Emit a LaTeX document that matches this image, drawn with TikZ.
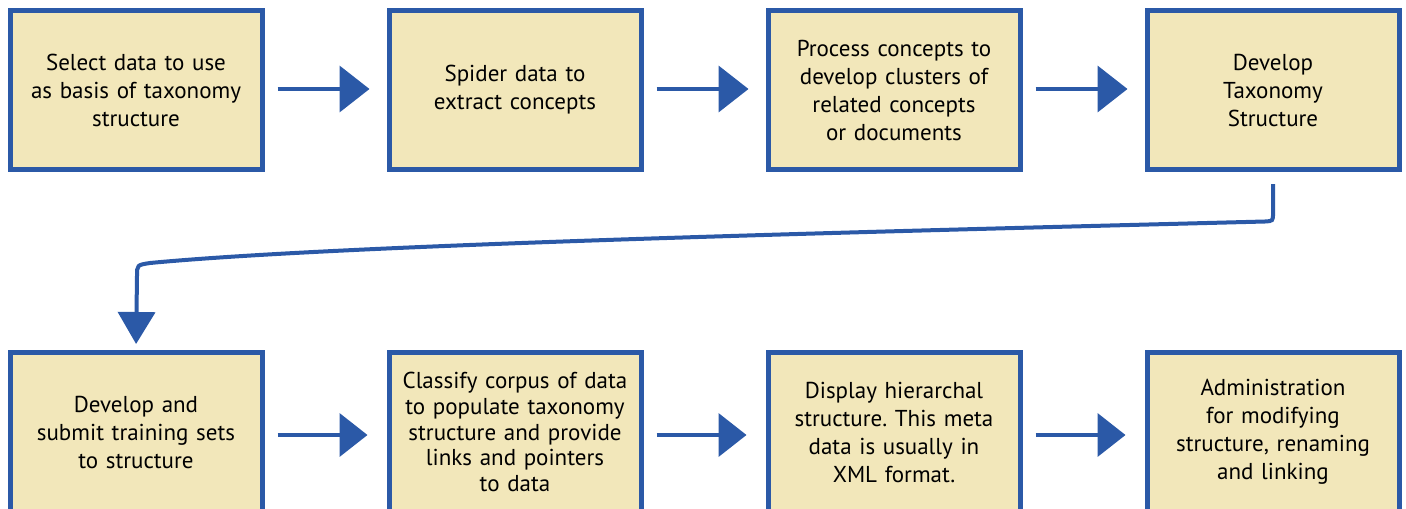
\documentclass[tikz,border=0pt]{standalone}
\usepackage{fontspec}
\setmainfont{PT Sans}
\usetikzlibrary{arrows.meta}
\definecolor{boxfill}{RGB}{242,231,186}
\definecolor{boxblue}{RGB}{43,89,167}
\frenchspacing
\begin{document}
\begin{tikzpicture}[x=0.5pt,y=-0.5pt,
  stepbox/.style={draw=boxblue, fill=boxfill, line width=2.5pt,
    minimum width=126pt, minimum height=79.5pt, inner sep=0pt,
    align=center, text width=122pt, font=\fontsize{11.5}{14}\selectfont},
  flow/.style={draw=boxblue, line width=2pt,
    -{Triangle[length=15pt,width=23pt]}, shorten <=6.5pt, shorten >=8.5pt},
  flowb/.style={draw=boxblue, line width=2pt,
    -{Triangle[length=14pt,width=21.5pt]}, shorten <=6.5pt, shorten >=9.5pt},
  turn/.style={draw=boxblue, line width=2pt,
    -{Triangle[length=16pt,width=18.5pt]}, shorten <=6pt, shorten >=3pt}]
\useasboundingbox (0,0) rectangle (1406,508);
\begin{scope}
\clip (0,0) rectangle (1406,508);
\node[stepbox] (b1) at (136,90) {Select data to use\\as basis of taxonomy\\structure};
\node[stepbox] (b2) at (515,90) {Spider data to\\extract concepts};
\node[stepbox] (b3) at (894,90) {Process concepts to\\develop clusters of\\related concepts\\or documents};
\node[stepbox] (b4) at (1273,90) {Develop\\Taxonomy\\Structure};
\node[stepbox] (b5) at (136,432) {Develop and\\submit training sets\\to structure};
\node[stepbox, font=\fontsize{11.5}{12.85}\selectfont] (b6) at (515,432) {Classify corpus of data\\to populate taxonomy\\structure and provide\\links and pointers\\to data};
\node[stepbox] (b7) at (894,432) {Display hierarchal\\structure. This meta\\data is usually in\\XML format.};
\node[stepbox] (b8) at (1273,432) {Administration\\for modifying\\structure, renaming\\and linking};
\end{scope}
\draw[flow] ([yshift=0.5pt]b1.east) -- ([yshift=0.5pt]b2.west);
\draw[flow] ([yshift=0.5pt]b2.east) -- ([yshift=0.5pt]b3.west);
\draw[flow] ([yshift=0.5pt]b3.east) -- ([yshift=0.5pt]b4.west);
\draw[flowb] ([yshift=-1.5pt]b5.east) -- ([yshift=-1.5pt]b6.west);
\draw[flowb] ([yshift=-1.5pt]b6.east) -- ([yshift=-1.5pt]b7.west);
\draw[flowb] ([yshift=-1.5pt]b7.east) -- ([yshift=-1.5pt]b8.west);
\draw[turn] (b4.south) -- (1273,213) .. controls (1273,221) .. (1265,221.5)
  .. controls (900,231) and (350,244) .. (150,263)
  .. controls (137,265) .. (137,276) -- (b5.north);
\end{tikzpicture}
\end{document}
